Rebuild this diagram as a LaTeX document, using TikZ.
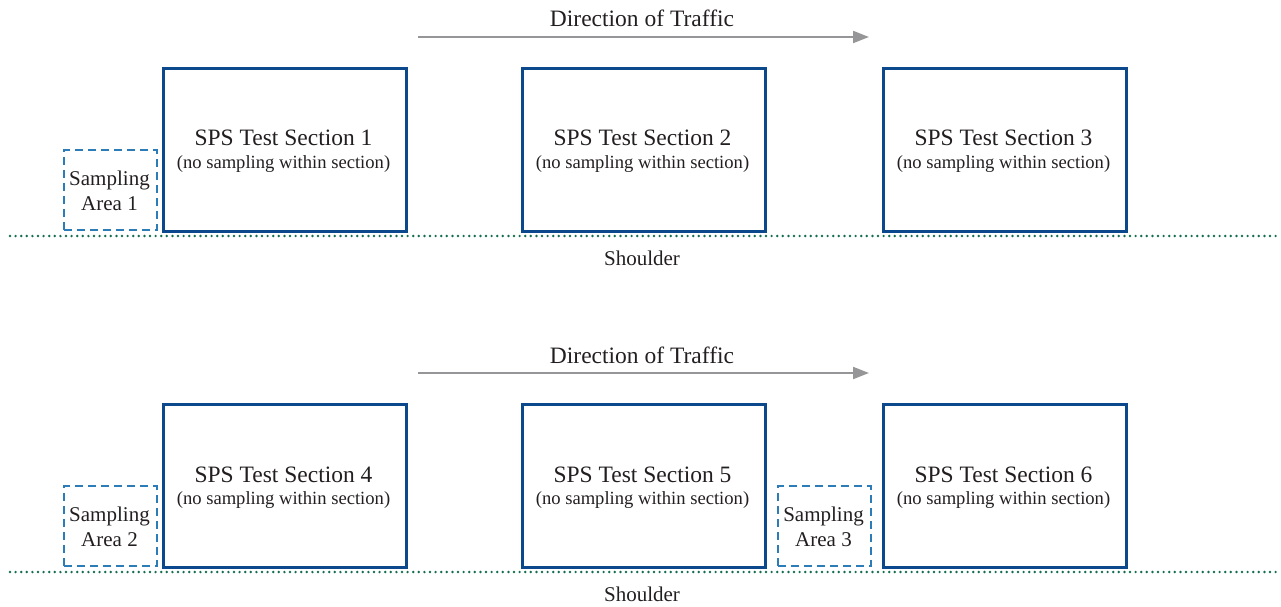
\documentclass[tikz,border=0pt]{standalone}
\usepackage{fontspec}
\setmainfont{Liberation Serif}
\usetikzlibrary{arrows.meta}
\definecolor{secblue}{RGB}{12,72,140}
\definecolor{sampblue}{RGB}{44,124,184}
\definecolor{shgreen}{RGB}{18,110,76}
\definecolor{txt}{RGB}{35,31,32}
\definecolor{arrgray}{RGB}{150,150,152}
\tikzset{
  secbox/.style={draw=secblue, line width=2.6pt, minimum width=243pt, minimum height=163pt, inner sep=0pt, anchor=north west},
  sampbox/.style={draw=sampblue, line width=2.4pt, dash pattern=on 8pt off 5pt, minimum width=93pt, minimum height=80pt, inner sep=0pt, anchor=north west},
  sectitle/.style={text=txt, font=\fontsize{23.5}{28}\selectfont, anchor=base, inner sep=0pt},
  secsub/.style={text=txt, font=\fontsize{18.6}{22}\selectfont, anchor=base, inner sep=0pt},
  samptext/.style={text=txt, font=\fontsize{21}{25}\selectfont, anchor=base, inner sep=0pt},
  dirtext/.style={text=txt, font=\fontsize{23.5}{28}\selectfont, anchor=base, inner sep=0pt},
  shtext/.style={text=txt, font=\fontsize{21}{25}\selectfont, anchor=base, inner sep=0pt},
  traffic/.style={draw=arrgray, line width=2pt, -{Triangle[length=16pt,width=12pt]}},
  shoulder/.style={draw=shgreen, line width=2.7pt, dash pattern=on 0pt off 5.6pt, line cap=round},
}
\begin{document}
\begin{tikzpicture}[x=1pt,y=-1pt]
\useasboundingbox (0,0) rectangle (1281,607);
% ---------- top panel ----------
\node[dirtext] (dir1) at (642,27) {Direction of Traffic};
\coordinate (a1s) at (418,37);
\coordinate (a1e) at (869,37);
\draw[traffic] (a1s) -- (a1e);

\node[secbox] (s1) at (162,67) {};
\node[secbox] (s2) at (521,67) {};
\node[secbox] (s3) at (882,67) {};
\node[sectitle] (t1) at (283.5,146) {SPS Test Section 1};
\node[secsub] (u1) at (283.5,168) {(no sampling within section)};
\node[sectitle] (t2) at (642.5,146) {SPS Test Section 2};
\node[secsub] (u2) at (642.5,168) {(no sampling within section)};
\node[sectitle] (t3) at (1003.5,146) {SPS Test Section 3};
\node[secsub] (u3) at (1003.5,168) {(no sampling within section)};

\node[sampbox] (p1) at (63,149) {};
\node[samptext] (p1a) at (109.5,185) {Sampling};
\node[samptext] (p1b) at (109.5,210) {Area 1};

\coordinate (g1s) at (10,236);
\coordinate (g1e) at (1281,236);
\draw[shoulder] (g1s) -- (g1e);
\node[shtext] (sh1) at (642,265) {Shoulder};

% ---------- bottom panel ----------
\begin{scope}[yshift=-336pt]
\node[dirtext] (dir2) at (642,27) {Direction of Traffic};
\coordinate (a2s) at (418,37);
\coordinate (a2e) at (869,37);
\draw[traffic] (a2s) -- (a2e);

\node[secbox] (s4) at (162,67) {};
\node[secbox] (s5) at (521,67) {};
\node[secbox] (s6) at (882,67) {};
\node[sectitle] (t4) at (283.5,146) {SPS Test Section 4};
\node[secsub] (u4) at (283.5,168) {(no sampling within section)};
\node[sectitle] (t5) at (642.5,146) {SPS Test Section 5};
\node[secsub] (u5) at (642.5,168) {(no sampling within section)};
\node[sectitle] (t6) at (1003.5,146) {SPS Test Section 6};
\node[secsub] (u6) at (1003.5,168) {(no sampling within section)};

\node[sampbox] (p2) at (63,149) {};
\node[samptext] (p2a) at (109.5,185) {Sampling};
\node[samptext] (p2b) at (109.5,210) {Area 2};

\node[sampbox] (p3) at (777,149) {};
\node[samptext] (p3a) at (823.5,185) {Sampling};
\node[samptext] (p3b) at (823.5,210) {Area 3};

\coordinate (g2s) at (10,236);
\coordinate (g2e) at (1281,236);
\draw[shoulder] (g2s) -- (g2e);
\node[shtext] (sh2) at (642,265) {Shoulder};
\end{scope}
\end{tikzpicture}
\end{document}
